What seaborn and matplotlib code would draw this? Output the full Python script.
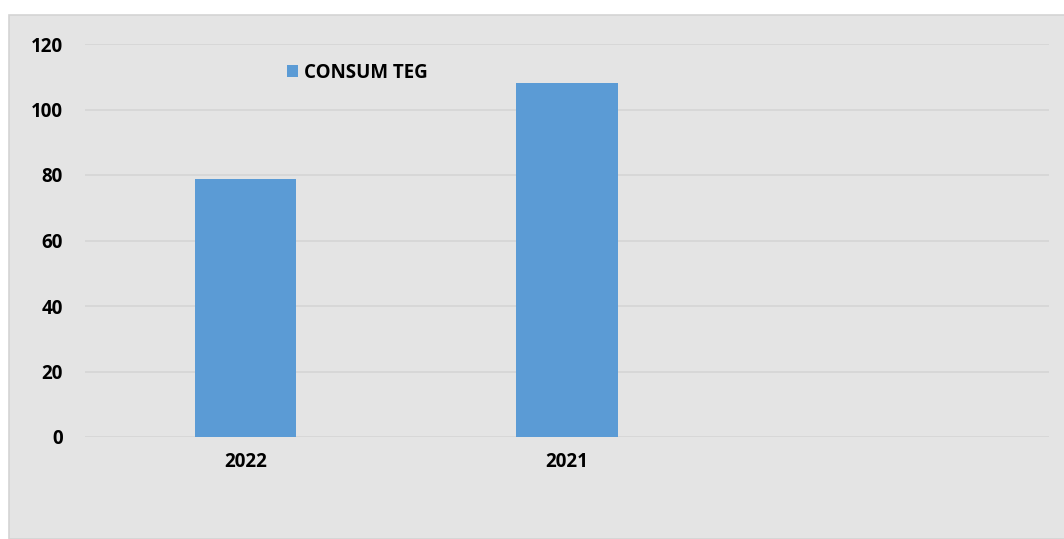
import pandas as pd
import matplotlib
matplotlib.use("Agg")
import matplotlib.pyplot as plt
from matplotlib.patches import Rectangle
import seaborn as sns

years = ["2022", "2021", ""]
consum_teg = [78.7, 108.0, None]
series_name = "CONSUM TEG"
y_ticks = [0, 20, 40, 60, 80, 100, 120]

df = pd.DataFrame({"an": years, "consum": consum_teg})

sns.set_style("white")
plt.rcParams["font.family"] = ["Open Sans", "DejaVu Sans"]
plt.rcParams["text.color"] = "black"
plt.rcParams["xtick.color"] = "black"
plt.rcParams["ytick.color"] = "black"

fig = plt.figure(figsize=(10.64, 5.39), dpi=100)
fig.patch.set_facecolor("white")
# chart area background (gray box)
bg = Rectangle((9 / 1064, 0), 1, 1 - 15 / 539, transform=fig.transFigure,
               facecolor="#e4e4e4", edgecolor="#d4d4d4", linewidth=1.2, zorder=-10)
fig.add_artist(bg)

ax = fig.add_axes([85 / 1064, 1 - 437 / 539, (1049 - 85) / 1064, (437 - 44) / 539])
ax.set_facecolor("none")
ax.set_zorder(1)

sns.barplot(data=df, x="an", y="consum", order=years, color="#5b9bd5",
            width=0.316, saturation=1, linewidth=0, label=series_name, ax=ax, zorder=3)

ax.set_ylim(0, 120)
ax.set_xlim(-0.5, 2.5)
ax.set_yticks(y_ticks)
ax.set_yticklabels([str(t) for t in y_ticks], fontsize=13.5, fontweight="bold")
ax.set_xticklabels(years, fontsize=13.5, fontweight="bold")
ax.grid(axis="y", color="#d5d5d5", linewidth=1.2, zorder=0)
ax.set_axisbelow(True)
ax.tick_params(axis="both", length=0, colors="black")
ax.tick_params(axis="y", pad=16)
ax.tick_params(axis="x", pad=11)
ax.set_xlabel("")
ax.set_ylabel("")
for s in ax.spines.values():
    s.set_visible(False)

ax.legend(loc="center left", bbox_to_anchor=(270 / 1064, 1 - 73 / 539), bbox_transform=fig.transFigure,
          frameon=False, handlelength=0.6, handleheight=0.6, handletextpad=0.3,
          prop={"size": 13.5, "weight": "bold"})

fig.savefig("out.png", dpi=100)
